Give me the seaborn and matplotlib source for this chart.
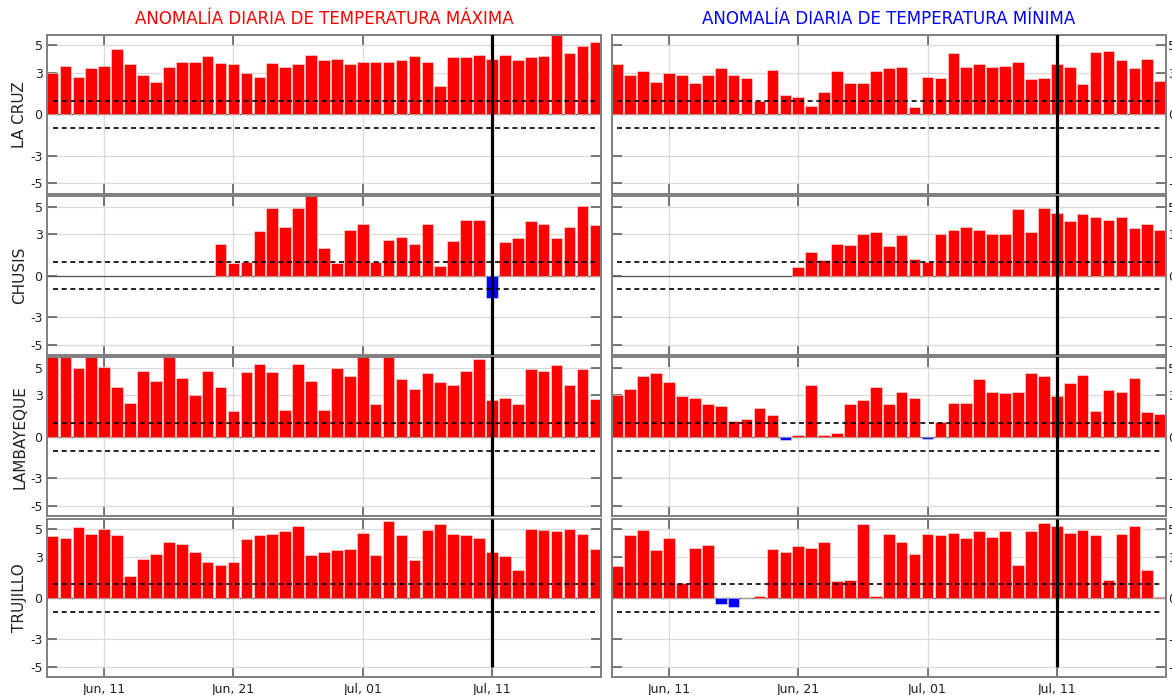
import numpy as np
import pandas as pd
import matplotlib
matplotlib.use("Agg")
import matplotlib.pyplot as plt
import matplotlib.dates as mdates
import seaborn as sns

# ---------------- data ----------------
dates = pd.date_range("2023-06-07", "2023-07-19", freq="D")
stations = ["LA CRUZ", "CHUSIS", "LAMBAYEQUE", "TRUJILLO"]
titles = ["ANOMALÍA DIARIA DE TEMPERATURA MÁXIMA", "ANOMALÍA DIARIA DE TEMPERATURA MÍNIMA"]
title_colors = ["#ff0000", "#0000ff"]
ref_date = "2023-07-11"
tick_dates = ["2023-06-11", "2023-06-21", "2023-07-01", "2023-07-11"]
nan = np.nan

tmax_la_cruz = [3.0, 3.53, 2.73, 3.33, 3.53, 4.71, 3.65, 2.85, 2.32, 3.43, 3.82,
                3.82, 4.23, 3.72, 3.65, 3.02, 2.73, 3.72, 3.43, 3.65, 4.32, 3.94,
                4.01, 3.65, 3.82, 3.82, 3.82, 3.94, 4.23, 3.82, 2.03, 4.13, 4.13,
                4.32, 4.01, 4.32, 3.94, 4.13, 4.23, 5.9, 4.42, 4.93, 5.22]
tmin_la_cruz = [3.65, 2.85, 3.14, 2.34, 3.02, 2.85, 2.25, 2.85, 3.33, 2.85, 2.63,
                0.94, 3.24, 1.43, 1.23, 0.60, 1.64, 3.14, 2.25, 2.25, 3.14, 3.33,
                3.43, 0.51, 2.71, 2.61, 4.42, 3.43, 3.65, 3.43, 3.53, 3.82, 2.54,
                2.61, 3.65, 3.43, 2.22, 4.52, 4.61, 3.94, 3.33, 4.01, 2.42]
tmax_chusis = [nan] * 13 + [2.32, 0.90, 1.0, 3.22, 4.93, 3.54, 4.93, 5.9, 2.0, 0.9,
                            3.32, 3.73, 1.0, 2.61, 2.80, 2.32, 3.73, 0.71, 2.51, 4.02,
                            4.02, -1.66, 2.41, 2.71, 3.93, 3.73, 2.71, 3.54, 5.02, 3.63]
tmin_chusis = [nan] * 14 + [0.59, 1.71, 1.12, 2.32, 2.22, 3.0, 3.15, 2.12, 2.93, 1.17,
                            1.0, 3.0, 3.32, 3.54, 3.32, 3.0, 3.0, 4.83, 3.15, 4.93,
                            4.54, 3.95, 4.44, 4.24, 4.02, 4.24, 3.44, 3.73, 3.32]
tmax_lambayeque = [5.9, 5.9, 4.98, 5.9, 5.07, 3.63, 2.46, 4.78, 4.07, 5.9, 4.27,
                   3.05, 4.78, 3.59, 1.83, 4.68, 5.27, 4.68, 1.95, 5.27, 4.07, 1.95,
                   4.98, 4.39, 5.9, 2.34, 5.9, 4.17, 3.46, 4.59, 3.98, 3.78, 4.78,
                   5.66, 2.63, 2.78, 2.34, 4.90, 4.78, 5.20, 3.78, 4.90, 2.76]
tmin_lambayeque = [3.05, 3.46, 4.37, 4.59, 3.95, 2.98, 2.78, 2.34, 2.20, 1.17, 1.32,
                   2.05, 1.56, -0.20, 0.15, 3.78, 0.15, 0.24, 2.34, 2.63, 3.59, 2.34,
                   3.27, 2.78, -0.15, 1.05, 2.46, 2.46, 4.17, 3.27, 3.15, 3.27, 4.59,
                   4.37, 2.95, 3.88, 4.46, 1.83, 3.37, 3.27, 4.27, 1.76, 1.66]
tmax_trujillo = [4.46, 4.34, 5.15, 4.66, 5.02, 4.54, 1.61, 2.85, 3.22, 4.02, 3.93,
                 3.34, 2.61, 2.41, 2.61, 4.24, 4.54, 4.66, 4.83, 5.22, 3.12, 3.34,
                 3.44, 3.56, 4.73, 3.12, 5.54, 4.54, 2.76, 4.95, 5.34, 4.66, 4.54,
                 4.34, 3.34, 3.02, 2.02, 5.02, 4.95, 4.83, 5.02, 4.66, 3.56]
tmin_trujillo = [2.32, 4.54, 4.95, 3.44, 4.34, 1.10, 3.63, 3.83, -0.44, -0.68, 0.02,
                 0.12, 3.54, 3.32, 3.73, 3.63, 4.02, 1.20, 1.29, 5.34, 0.12, 4.63,
                 4.02, 3.22, 4.63, 4.54, 4.73, 4.34, 4.83, 4.44, 4.83, 2.41, 4.83,
                 5.44, 5.24, 4.73, 4.95, 4.54, 1.29, 4.63, 5.24, 2.02, 0.10]

tmax_series = [tmax_la_cruz, tmax_chusis, tmax_lambayeque, tmax_trujillo]
tmin_series = [tmin_la_cruz, tmin_chusis, tmin_lambayeque, tmin_trujillo]
yticks = [-5, -3, 0, 3, 5]

# ---------------- style ----------------
sns.set_style("white")
plt.rcParams["font.family"] = ["DejaVu Sans"]

W, H = 1172, 695
fig = plt.figure(figsize=(W / 100, H / 100), dpi=100)

xnum = mdates.date2num(dates)
x_ref = mdates.date2num(pd.Timestamp(ref_date))
xt = mdates.date2num(pd.to_datetime(tick_dates))

col_left = [46.7, 611.5]
col_w = 554.5
row_top0 = 35.0
row_h = 158.7
row_gap = 2.5
spine_col = "#7f7f7f"

for c, series_list in enumerate([tmax_series, tmin_series]):
    for r, vals in enumerate(series_list):
        top = row_top0 + r * (row_h + row_gap)
        ax = fig.add_axes([col_left[c] / W, 1 - (top + row_h) / H, col_w / W, row_h / H])
        v = np.array(vals, dtype=float)
        df = pd.DataFrame({"x": xnum, "v": v}).dropna()
        df["sign"] = np.where(df["v"] >= 0, "pos", "neg")
        ax.set_axisbelow(True)
        ax.grid(True, color="#d9d9d9", lw=0.9)
        ax.axhline(0, color="#555555", lw=0.9, zorder=1)
        sns.barplot(data=df, x="x", y="v", hue="sign", native_scale=True,
                    palette={"pos": "#ff0000", "neg": "#0000ff"}, dodge=False,
                    saturation=1, width=0.9, errorbar=None, legend=False,
                    edgecolor=(1, 1, 1, 0.55), linewidth=0.6, ax=ax, zorder=2)
        # thresholds
        ax.hlines([1, -1], xnum[0], xnum[-1], colors="k", linestyles=(0, (3, 2.2)),
                  lw=1.2, zorder=3)
        # reference date line
        if r < 3:
            ax.axvline(x_ref, color="k", lw=2.3, zorder=5)
        else:
            ax.vlines(x_ref, -5, 5.75, color="k", lw=2.3, zorder=5)

        ax.set_xlim(xnum[0] - 0.45, xnum[-1] + 0.45)
        ax.set_ylim(-5.75, 5.75)
        ax.set_yticks(yticks)
        ax.set_yticklabels([str(t) for t in yticks])
        ax.set_xticks(xt)
        ax.xaxis.set_major_formatter(mdates.DateFormatter("%b, %d"))
        ax.set_xlabel("")
        ax.set_ylabel("")
        for s in ax.spines.values():
            s.set_color(spine_col)
            s.set_linewidth(1.4)
        ax.tick_params(axis="both", which="both", direction="in", length=7,
                       width=1.1, color="#555555", labelsize=9, labelcolor="#222222")
        ax.tick_params(axis="x", top=True, bottom=True, labelbottom=(r == 3), pad=4)
        if c == 0:
            ax.tick_params(axis="y", left=True, right=True, labelleft=True,
                           labelright=False, pad=3)
            ax.set_ylabel(stations[r], fontsize=11, color="#222222", labelpad=2)
        else:
            ax.tick_params(axis="y", left=True, right=True, labelleft=False,
                           labelright=True, pad=1.5)
        if r == 0:
            ax.set_title(titles[c], color=title_colors[c], fontsize=12, pad=8)

fig.savefig("out.png", dpi=100)
